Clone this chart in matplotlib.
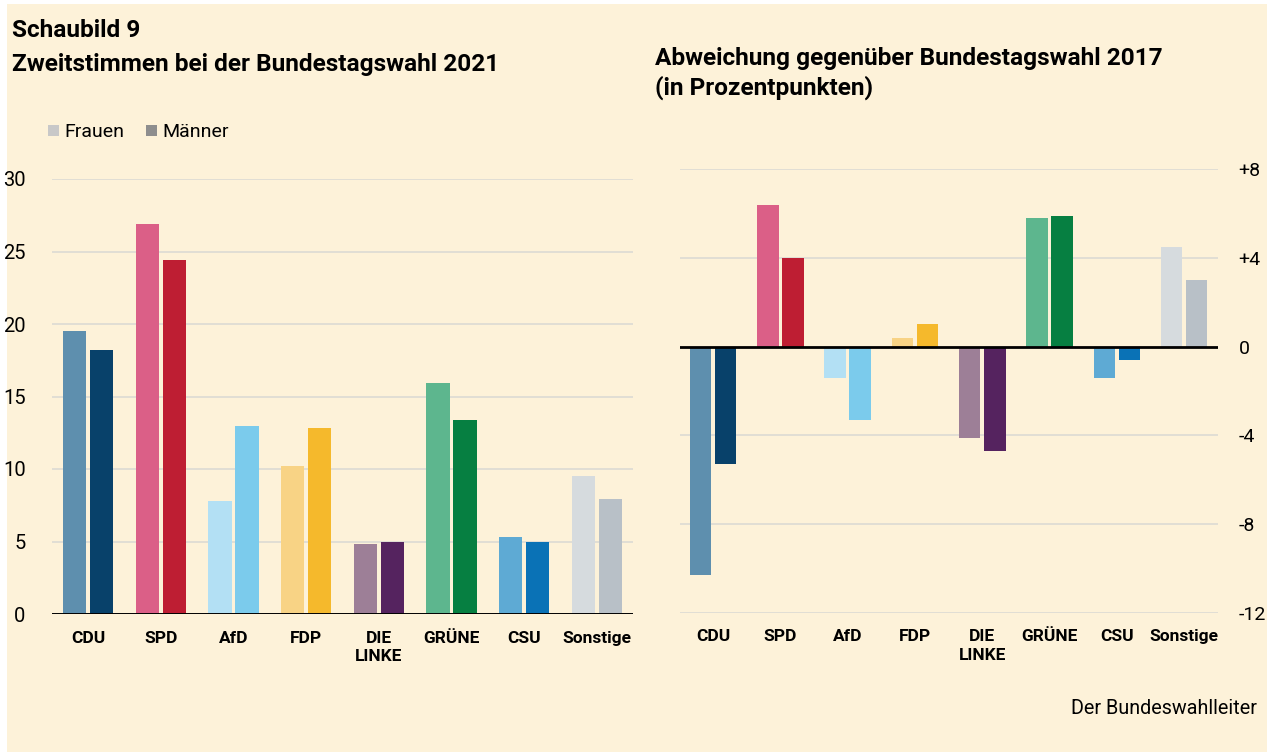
import numpy as np
import matplotlib
matplotlib.use("Agg")
import matplotlib.pyplot as plt
from matplotlib.patches import Rectangle

plt.rcParams['font.family'] = ['Roboto', 'DejaVu Sans']

# ---------------- data ----------------
parties = ["CDU", "SPD", "AfD", "FDP", "DIE\nLINKE", "GRÜNE", "CSU", "Sonstige"]
frauen_2021 = [19.5, 26.9, 7.8, 10.2, 4.8, 15.9, 5.3, 9.5]
maenner_2021 = [18.2, 24.4, 13.0, 12.8, 5.0, 13.4, 5.0, 7.9]
frauen_diff = [-10.3, 6.4, -1.4, 0.4, -4.1, 5.8, -1.4, 4.5]
maenner_diff = [-5.3, 4.0, -3.3, 1.0, -4.7, 5.9, -0.6, 3.0]

colors_f = ["#5E8FAE", "#DB5F87", "#B3E0F4", "#F8D385", "#9D7F97", "#5DB68E", "#5EAAD4", "#D6DBDE"]
colors_m = ["#08416A", "#BE1E33", "#7BCBEC", "#F5B92C", "#55235F", "#067F41", "#0A72B6", "#B8C0C7"]

left_ticks = [0, 5, 10, 15, 20, 25, 30]
right_ticks = [-12, -8, -4, 0, 4, 8]
right_ticklabels = ["-12", "-8", "-4", "0", "+4", "+8"]

BG = "#FDF2D9"
GRID = "#DEDCD4"

W, H = 1267, 752
fig = plt.figure(figsize=(W / 100, H / 100), dpi=100)
fig.patch.set_facecolor("white")
fig.add_artist(Rectangle((7 / W, 0), 1 - 7 / W, 1 - 4 / H, transform=fig.transFigure,
                         facecolor=BG, edgecolor="none", zorder=-10))

def fx(px):
    return px / W

def fy(py):
    return 1 - py / H

x = np.arange(len(parties))
bw = 0.32
off = 0.186

# ---------------- left chart ----------------
axL = fig.add_axes([fx(52), fy(614), fx(633) - fx(52), fy(179) - fy(614)])
axL.set_facecolor("none")
axL.bar(x - off, frauen_2021, width=bw, color=colors_f, zorder=3)
axL.bar(x + off, maenner_2021, width=bw, color=colors_m, zorder=3)
axL.set_xlim(-0.5, len(parties) - 0.5)
axL.set_ylim(0, 30)
axL.set_yticks(left_ticks)
for t in left_ticks[1:]:
    axL.axhline(t, color=GRID, lw=1.3, zorder=1)
axL.axhline(0, color="black", lw=1.4, zorder=4)
axL.set_xticks(x)
axL.set_xticklabels(parties, fontweight="bold", fontsize=12.5, linespacing=1.3)
axL.tick_params(axis="x", length=0, pad=12)
axL.tick_params(axis="y", length=0, pad=19, labelsize=14.5)
for s in axL.spines.values():
    s.set_visible(False)

# ---------------- right chart ----------------
axR = fig.add_axes([fx(679.5), fy(612.7), fx(1217.7) - fx(679.5), fy(169.3) - fy(612.7)])
axR.set_facecolor("none")
axR.bar(x - off, frauen_diff, width=bw, color=colors_f, zorder=3)
axR.bar(x + off, maenner_diff, width=bw, color=colors_m, zorder=3)
axR.set_xlim(-0.5, len(parties) - 0.5)
axR.set_ylim(-12, 8)
axR.set_yticks(right_ticks)
axR.set_yticklabels(right_ticklabels)
for t in right_ticks:
    if t != 0:
        axR.axhline(t, color=GRID, lw=1.3, zorder=1)
axR.axhline(0, color="black", lw=2.0, zorder=4)
axR.yaxis.tick_right()
axR.set_xticks(x)
axR.set_xticklabels(parties, fontweight="bold", fontsize=12.5, linespacing=1.3)
axR.tick_params(axis="x", length=0, pad=12)
axR.tick_params(axis="y", length=0, pad=15, labelsize=14)
for s in axR.spines.values():
    s.set_visible(False)

# ---------------- titles & texts ----------------
TS = 17.6
fig.text(fx(12), fy(37), "Schaubild 9", fontsize=TS, fontweight="bold", va="baseline", ha="left")
fig.text(fx(12), fy(71), "Zweitstimmen bei der Bundestagswahl 2021", fontsize=TS,
         fontweight="bold", va="baseline", ha="left")
fig.text(fx(655), fy(65), "Abweichung gegenüber Bundestagswahl 2017", fontsize=TS,
         fontweight="bold", va="baseline", ha="left")
fig.text(fx(655), fy(95), "(in Prozentpunkten)", fontsize=TS,
         fontweight="bold", va="baseline", ha="left")

# legend
fig.add_artist(Rectangle((fx(48), fy(136)), fx(11), 11 / H, transform=fig.transFigure,
                         facecolor="#C8C8C8", edgecolor="none"))
fig.text(fx(64), fy(137), "Frauen", fontsize=14, va="baseline", ha="left")
fig.add_artist(Rectangle((fx(146), fy(136)), fx(11), 11 / H, transform=fig.transFigure,
                         facecolor="#8E8E8E", edgecolor="none"))
fig.text(fx(162), fy(137), "Männer", fontsize=14, va="baseline", ha="left")

fig.text(fx(1257), fy(714), "Der Bundeswahlleiter", fontsize=14.2, va="baseline", ha="right")

fig.savefig("out.png", dpi=100, facecolor=fig.get_facecolor())
